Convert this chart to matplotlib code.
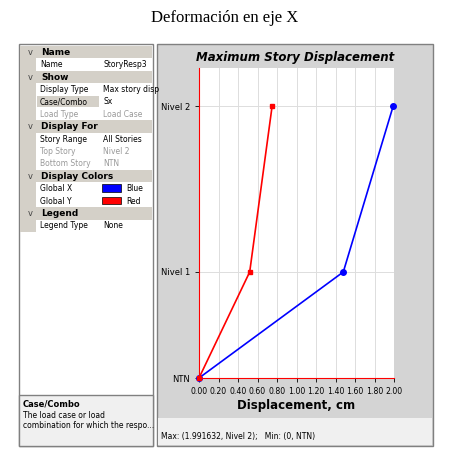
import matplotlib.pyplot as plt
from matplotlib.patches import Rectangle

levels = ['NTN', 'Nivel 1', 'Nivel 2']
elev = [0.0, 3.9, 10.0]
disp_x = [0.0, 1.48, 1.991632]
disp_y = [0.0, 0.52, 0.75]
xticks = [0.0, 0.2, 0.4, 0.6, 0.8, 1.0, 1.2, 1.4, 1.6, 1.8, 2.0]

rows = [('h', 'Name', ''), ('r', 'Name', 'StoryResp3'),
        ('h', 'Show', ''), ('r', 'Display Type', 'Max story disp'),
        ('s', 'Case/Combo', 'Sx'), ('g', 'Load Type', 'Load Case'),
        ('h', 'Display For', ''), ('r', 'Story Range', 'All Stories'),
        ('g', 'Top Story', 'Nivel 2'), ('g', 'Bottom Story', 'NTN'),
        ('h', 'Display Colors', ''), ('c', 'Global X', 'Blue'),
        ('c', 'Global Y', 'Red'), ('h', 'Legend', ''),
        ('r', 'Legend Type', 'None')]

W, H = 450, 462
fig = plt.figure(figsize=(W / 100, H / 100), dpi=100)
fig.patch.set_facecolor('white')
bg = fig.add_axes([0, 0, 1, 1])
bg.set_xlim(0, W)
bg.set_ylim(H, 0)
bg.axis('off')

fig.text(0.5, 1 - 18 / H, 'Deformación en eje X', ha='center', va='center',
         fontsize=12, family='Liberation Serif')

# left property panel
bg.add_patch(Rectangle((19, 44), 134, 402, fc='white', ec='#808080', lw=1))
rh = 12.4
y0 = 46
for i, (kind, k, v) in enumerate(rows):
    y = y0 + i * rh
    if kind == 'h':
        bg.add_patch(Rectangle((20, y), 132, rh, fc='#d4d0c8', ec='none'))
        bg.text(28, y + rh / 2, 'v', fontsize=6, va='center', color='#444')
        bg.text(41, y + rh / 2, k, fontsize=6.5, weight='bold', va='center')
    else:
        bg.add_patch(Rectangle((20, y), 16, rh, fc='#d4d0c8', ec='none'))
        fc = '#d4d0c8' if kind == 's' else 'white'
        bg.add_patch(Rectangle((37, y), 62, rh - 1, fc=fc, ec='none'))
        bg.add_patch(Rectangle((100, y), 52, rh - 1, fc='white', ec='none'))
        col = '#999999' if kind == 'g' else 'black'
        bg.text(40, y + rh / 2, k, fontsize=5.5, va='center', color=col)
        if kind == 'c':
            bg.add_patch(Rectangle((102, y + 2), 19, rh - 5, ec='black', lw=0.5,
                                   fc='#0000ff' if v == 'Blue' else '#ff0000'))
            bg.text(126, y + rh / 2, v, fontsize=5.5, va='center')
        else:
            bg.text(103, y + rh / 2, v, fontsize=5.5, va='center', color=col,
                    clip_on=True)
bg.add_patch(Rectangle((19, 395), 134, 51, fc='#f0f0f0', ec='#808080', lw=1))
bg.text(23, 404, 'Case/Combo', fontsize=6, weight='bold', va='center')
bg.text(23, 416, 'The load case or load', fontsize=5.5, va='center')
bg.text(23, 426, 'combination for which the respo...', fontsize=5.5, va='center')

# chart panel
bg.add_patch(Rectangle((157, 44), 276, 402, fc='#d4d4d4', ec='#808080', lw=1))
bg.add_patch(Rectangle((158, 418), 274, 27, fc='#f0f0f0', ec='none'))
bg.text(161, 437, 'Max: (1.991632, Nivel 2);   Min: (0, NTN)', fontsize=5.5,
        va='center')
bg.text(295, 57, 'Maximum Story Displacement', fontsize=8.5, weight='bold',
        style='italic', ha='center', va='center')

ax = fig.add_axes([199 / W, 1 - 378 / H, 195 / W, 310 / H])
ax.set_xlim(0, 2.0)
ax.set_ylim(0, 11.4)
ax.set_facecolor('white')
for s in ['top', 'right']:
    ax.spines[s].set_visible(False)
for s in ['left', 'bottom']:
    ax.spines[s].set_color('red')
    ax.spines[s].set_linewidth(0.8)
ax.set_xticks(xticks)
ax.set_xticklabels([f'{t:.2f}' for t in xticks], fontsize=5.6)
ax.set_yticks(elev)
ax.set_yticklabels(levels, fontsize=6)
ax.tick_params(length=3, width=0.6)
ax.grid(True, color='#dddddd', lw=0.7)
ax.set_axisbelow(True)
ax.plot(disp_x, elev, color='#0000ff', lw=1.2, marker='o', ms=4, clip_on=False)
ax.plot(disp_y, elev, color='#ff0000', lw=1.2, marker='s', ms=3.5, clip_on=False)
ax.set_xlabel('Displacement, cm', fontsize=8.5, weight='bold', labelpad=2)

fig.savefig('out.png', dpi=100)
